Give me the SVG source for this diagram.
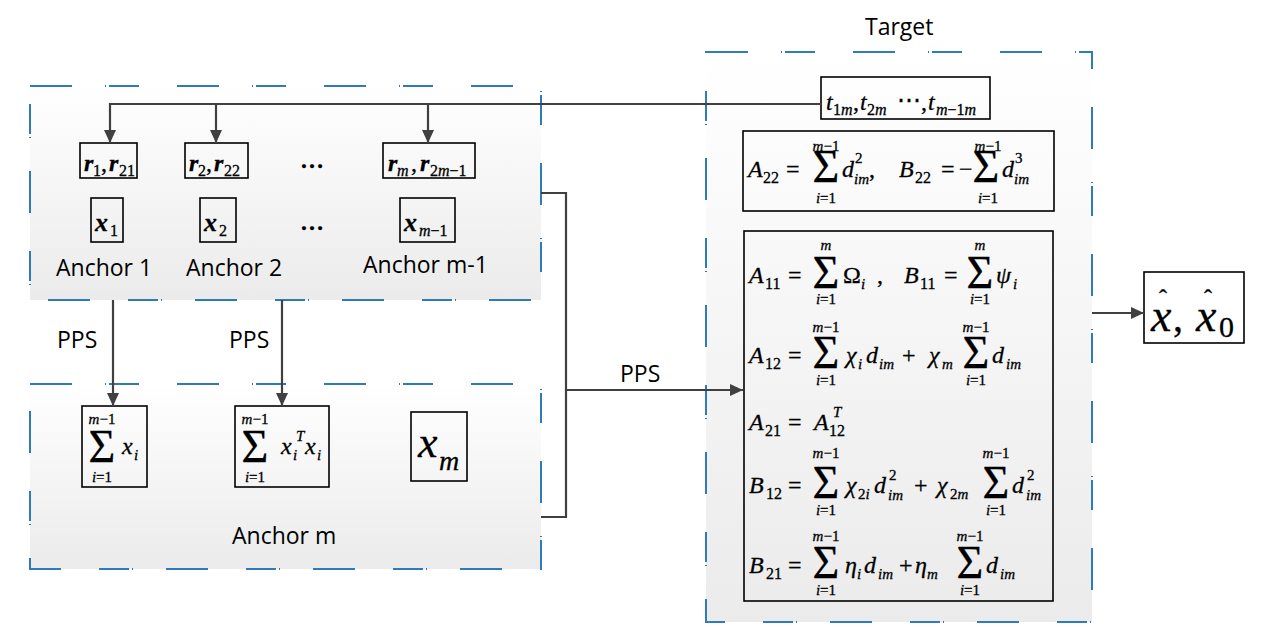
<svg xmlns="http://www.w3.org/2000/svg" width="1265" height="643" viewBox="0 0 1265 643">
<defs>
<linearGradient id="g" x1="0" y1="0" x2="0" y2="1">
<stop offset="0" stop-color="#ffffff"/>
<stop offset="1" stop-color="#ebebeb"/>
</linearGradient>
<marker id="ah" markerUnits="userSpaceOnUse" markerWidth="13" markerHeight="12" refX="13" refY="6" orient="auto">
<path d="M0,0 L13,6 L0,12 z" fill="#404040"/>
</marker>
<style>
.grp{fill:url(#g);stroke:#2f7ab9;stroke-width:2;stroke-dasharray:42 33 1 3 30 38}
.bx{fill:none;stroke:#000;stroke-width:1.6}
.con{fill:none;stroke:#404040;stroke-width:2.2}
.lab{font-family:"Open Sans","Noto Sans",sans-serif;font-size:23px;fill:#000}
.m{font-family:"Liberation Serif","Times New Roman",serif;font-size:24px;fill:#000;stroke:#000;stroke-width:0.3}
.i{font-style:italic}
.bi{font-style:italic;font-weight:bold}
.s{font-size:16px}
.l{font-size:15px}
.S{font-size:46px;text-anchor:middle}
.c{text-anchor:middle}
</style>
</defs>
<rect width="1265" height="643" fill="#ffffff"/>

<g id="anchors">
<rect class="grp" x="30" y="86" width="511" height="214"/>
<g id="node-r1">
<rect class="bx" x="80" y="143" width="57" height="35"/>
<text class="m"><tspan class="bi" x="84" y="171">r</tspan><tspan class="s" x="93" y="176">1</tspan><tspan x="101" y="171">,</tspan><tspan class="bi" x="109" y="171">r</tspan><tspan class="s" x="119" y="176">21</tspan></text>
</g>
<g id="node-r2">
<rect class="bx" x="185" y="143" width="63" height="35"/>
<text class="m"><tspan class="bi" x="189" y="171">r</tspan><tspan class="s" x="198" y="176">2</tspan><tspan x="206" y="171">,</tspan><tspan class="bi" x="214" y="171">r</tspan><tspan class="s" x="224" y="176">22</tspan></text>
</g>
<g id="node-rm">
<rect class="bx" x="383" y="143" width="92" height="35"/>
<text class="m"><tspan class="bi" x="388" y="171">r</tspan><tspan class="s i" x="397" y="176">m</tspan><tspan x="411" y="171">,</tspan><tspan class="bi" x="420" y="171">r</tspan><tspan class="s" x="430" y="176">2<tspan class="i">m</tspan>−1</tspan></text>
</g>
<g id="node-x1">
<rect class="bx" x="91" y="198" width="32" height="44"/>
<text class="m"><tspan class="bi" x="95" y="231" font-size="26">x</tspan><tspan class="s" x="110" y="236">1</tspan></text>
</g>
<g id="node-x2">
<rect class="bx" x="200" y="198" width="36" height="44"/>
<text class="m"><tspan class="bi" x="204" y="231" font-size="26">x</tspan><tspan class="s" x="219" y="236">2</tspan></text>
</g>
<g id="node-xm1">
<rect class="bx" x="400" y="198" width="55" height="44"/>
<text class="m"><tspan class="bi" x="404" y="231" font-size="26">x</tspan><tspan class="s" x="419" y="236"><tspan class="i">m</tspan>−1</tspan></text>
</g>
<text class="m c" x="312" y="168" font-size="28" font-weight="bold">…</text>
<text class="m c" x="312" y="230" font-size="28" font-weight="bold">…</text>
<text class="lab" x="56" y="276">Anchor 1</text>
<text class="lab" x="186" y="276">Anchor 2</text>
<text class="lab" x="363" y="273">Anchor m-1</text>
</g>

<g id="anchor-m">
<rect class="grp" x="30" y="384" width="511" height="185"/>
<g id="node-sumx">
<rect class="bx" x="82" y="406" width="65" height="81"/>
<text class="m S" x="102" y="462">Σ</text>
<text class="m l c" x="102" y="424"><tspan class="i">m</tspan>−1</text>
<text class="m l c" x="102" y="482"><tspan class="i">i</tspan>=1</text>
<text class="m"><tspan class="i" x="122" y="454">x</tspan><tspan class="l i" x="134" y="460">i</tspan></text>
</g>
<g id="node-sumxx">
<rect class="bx" x="235" y="406" width="94" height="81"/>
<text class="m S" x="255" y="462">Σ</text>
<text class="m l c" x="255" y="424"><tspan class="i">m</tspan>−1</text>
<text class="m l c" x="255" y="482"><tspan class="i">i</tspan>=1</text>
<text class="m"><tspan class="i" x="281" y="454">x</tspan><tspan class="l i" x="296" y="441">T</tspan><tspan class="l i" x="293" y="460">i</tspan><tspan class="i" x="305" y="454">x</tspan><tspan class="l i" x="317" y="460">i</tspan></text>
</g>
<g id="node-xm">
<rect class="bx" x="411" y="412" width="56" height="69"/>
<text class="m"><tspan class="i" x="418" y="457" font-size="44">x</tspan><tspan class="i" x="439" y="470" font-size="28">m</tspan></text>
</g>
<text class="lab" x="232" y="544">Anchor m</text>
</g>

<g id="target">
<rect class="grp" x="706" y="52" width="386" height="570"/>
<text class="lab" x="865" y="35">Target</text>
<g id="node-t">
<rect class="bx" x="821" y="77" width="169" height="42"/>
<text class="m"><tspan class="i" x="826" y="110">t</tspan><tspan class="s" x="833" y="115">1<tspan class="i">m</tspan></tspan><tspan x="853" y="110">,</tspan><tspan class="i" x="860" y="110">t</tspan><tspan class="s" x="867" y="115">2<tspan class="i">m</tspan></tspan><tspan x="897" y="108">⋯</tspan><tspan x="921" y="110">,</tspan><tspan class="i" x="928" y="110">t</tspan><tspan class="s" x="936" y="115"><tspan class="i">m</tspan>−1<tspan class="i">m</tspan></tspan></text>
</g>
<g id="node-a22">
<rect class="bx" x="743" y="131" width="311" height="80"/>
<text class="m"><tspan class="i" x="748" y="177">A</tspan><tspan class="s" x="763" y="183">22</tspan><tspan x="786" y="177">=</tspan><tspan class="i" x="842" y="177">d</tspan><tspan class="l" x="855" y="163">2</tspan><tspan class="l i" x="854" y="184">im</tspan><tspan x="869" y="177">,</tspan><tspan class="i" x="899" y="177">B</tspan><tspan class="s" x="915" y="183">22</tspan><tspan x="941" y="177">=</tspan><tspan x="959" y="177">−</tspan><tspan class="i" x="1002" y="177">d</tspan><tspan class="l" x="1015" y="163">3</tspan><tspan class="l i" x="1014" y="184">im</tspan></text>
<text class="m S" x="986" y="182">Σ</text>
<text class="m S" x="826" y="182">Σ</text>
<text class="m l c" x="826" y="151"><tspan class="i">m</tspan>−1</text>
<text class="m l c" x="826" y="203"><tspan class="i">i</tspan>=1</text>
<text class="m l c" x="988" y="151"><tspan class="i">m</tspan>−1</text>
<text class="m l c" x="988" y="203"><tspan class="i">i</tspan>=1</text>
</g>
<g id="node-eqs">
<rect class="bx" x="744" y="231" width="309" height="370"/>
<text class="m"><tspan class="i" x="749" y="283">A</tspan><tspan class="s" x="765" y="289">11</tspan><tspan x="788" y="283">=</tspan><tspan x="843" y="283">Ω</tspan><tspan class="l i" x="861" y="289">i</tspan><tspan x="877" y="283">,</tspan><tspan class="i" x="904" y="283">B</tspan><tspan class="s" x="920" y="289">11</tspan><tspan x="944" y="283">=</tspan><tspan class="i" x="996" y="283">ψ</tspan><tspan class="l i" x="1013" y="289">i</tspan></text>
<text class="m S" x="826" y="288">Σ</text>
<text class="m l c i" x="826" y="250">m</text>
<text class="m l c" x="826" y="304"><tspan class="i">i</tspan>=1</text>
<text class="m S" x="980" y="288">Σ</text>
<text class="m l c i" x="980" y="250">m</text>
<text class="m l c" x="980" y="304"><tspan class="i">i</tspan>=1</text>
<text class="m"><tspan class="i" x="749" y="363">A</tspan><tspan class="s" x="765" y="369">12</tspan><tspan x="788" y="363">=</tspan><tspan class="i" x="846" y="363">χ</tspan><tspan class="l i" x="858" y="369">i</tspan><tspan class="i" x="866" y="363">d</tspan><tspan class="l i" x="879" y="369">im</tspan><tspan x="902" y="363">+</tspan><tspan class="i" x="929" y="363">χ</tspan><tspan class="l i" x="942" y="369">m</tspan><tspan class="i" x="992" y="363">d</tspan><tspan class="l i" x="1006" y="369">im</tspan></text>
<text class="m S" x="826" y="368">Σ</text>
<text class="m l c" x="826" y="332"><tspan class="i">m</tspan>−1</text>
<text class="m l c" x="826" y="385"><tspan class="i">i</tspan>=1</text>
<text class="m S" x="976" y="368">Σ</text>
<text class="m l c" x="976" y="332"><tspan class="i">m</tspan>−1</text>
<text class="m l c" x="976" y="385"><tspan class="i">i</tspan>=1</text>
<text class="m"><tspan class="i" x="749" y="430">A</tspan><tspan class="s" x="765" y="436">21</tspan><tspan x="788" y="430">=</tspan><tspan class="i" x="814" y="430">A</tspan><tspan class="l i" x="833" y="417">T</tspan><tspan class="s" x="829" y="436">12</tspan></text>
<text class="m"><tspan class="i" x="749" y="493">B</tspan><tspan class="s" x="766" y="499">12</tspan><tspan x="788" y="493">=</tspan><tspan class="i" x="846" y="493">χ</tspan><tspan class="l" x="858" y="499">2<tspan class="i">i</tspan></tspan><tspan class="i" x="874" y="493">d</tspan><tspan class="l" x="889" y="480">2</tspan><tspan class="l i" x="888" y="500">im</tspan><tspan x="914" y="493">+</tspan><tspan class="i" x="937" y="493">χ</tspan><tspan class="l" x="950" y="499">2<tspan class="i">m</tspan></tspan><tspan class="i" x="1012" y="493">d</tspan><tspan class="l" x="1027" y="480">2</tspan><tspan class="l i" x="1026" y="500">im</tspan></text>
<text class="m S" x="826" y="498">Σ</text>
<text class="m l c" x="826" y="458"><tspan class="i">m</tspan>−1</text>
<text class="m l c" x="826" y="515"><tspan class="i">i</tspan>=1</text>
<text class="m S" x="996" y="498">Σ</text>
<text class="m l c" x="996" y="458"><tspan class="i">m</tspan>−1</text>
<text class="m l c" x="996" y="515"><tspan class="i">i</tspan>=1</text>
<text class="m"><tspan class="i" x="749" y="573">B</tspan><tspan class="s" x="766" y="579">21</tspan><tspan x="788" y="573">=</tspan><tspan class="i" x="845" y="573">η</tspan><tspan class="l i" x="857" y="579">i</tspan><tspan class="i" x="864" y="573">d</tspan><tspan class="l i" x="878" y="579">im</tspan><tspan x="899" y="573">+</tspan><tspan class="i" x="915" y="573">η</tspan><tspan class="l i" x="927" y="579">m</tspan><tspan class="i" x="986" y="573">d</tspan><tspan class="l i" x="1000" y="579">im</tspan></text>
<text class="m S" x="826" y="578">Σ</text>
<text class="m l c" x="826" y="541"><tspan class="i">m</tspan>−1</text>
<text class="m l c" x="826" y="595"><tspan class="i">i</tspan>=1</text>
<text class="m S" x="970" y="578">Σ</text>
<text class="m l c" x="970" y="541"><tspan class="i">m</tspan>−1</text>
<text class="m l c" x="970" y="595"><tspan class="i">i</tspan>=1</text>
</g>
</g>

<g id="node-output">
<rect class="bx" x="1144" y="272" width="100" height="71"/>
<text class="m"><tspan class="i" x="1151" y="331" font-size="46">x</tspan><tspan x="1173" y="331" font-size="40">,</tspan><tspan class="i" x="1196" y="331" font-size="46">x</tspan><tspan x="1219" y="337" font-size="30">0</tspan></text>
<text class="m c" x="1163" y="306" font-size="44">ˆ</text>
<text class="m c" x="1208" y="306" font-size="44">ˆ</text>
</g>

<g id="connectors">
<path class="con" d="M821,104 H110 V143" marker-end="url(#ah)"/>
<path class="con" d="M216,104 V143" marker-end="url(#ah)"/>
<path class="con" d="M428,104 V143" marker-end="url(#ah)"/>
<path class="con" d="M113,300 V406" marker-end="url(#ah)"/>
<path class="con" d="M282,300 V406" marker-end="url(#ah)"/>
<path class="con" d="M541,193 H566 V517 H541"/>
<path class="con" d="M566,390 H743" marker-end="url(#ah)"/>
<path class="con" d="M1092,313 H1144" marker-end="url(#ah)"/>
<text class="lab" x="57" y="348">PPS</text>
<text class="lab" x="229" y="348">PPS</text>
<text class="lab" x="620" y="382">PPS</text>
</g>
</svg>
